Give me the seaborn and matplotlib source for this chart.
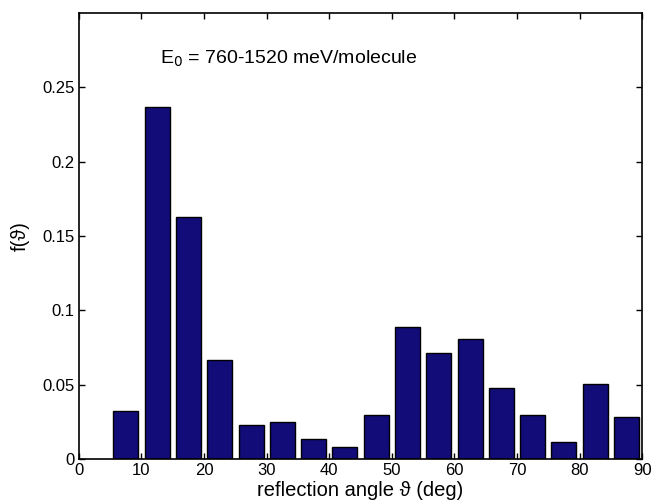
import numpy as np
import pandas as pd
import seaborn as sns
import matplotlib.pyplot as plt

# bin centres (deg) and fractions
angles = [7.5, 12.5, 17.5, 22.5, 27.5, 32.5, 37.5, 42.5, 47.5,
          52.5, 57.5, 62.5, 67.5, 72.5, 77.5, 82.5, 87.5]
fractions = [0.0323, 0.237, 0.163, 0.0665, 0.0228, 0.0247, 0.0135, 0.0083, 0.0297,
             0.0890, 0.0713, 0.0805, 0.0480, 0.0295, 0.0117, 0.0508, 0.0283]
x_ticks = [0, 10, 20, 30, 40, 50, 60, 70, 80, 90]
y_ticks = [0, 0.05, 0.1, 0.15, 0.2, 0.25]
y_tick_labels = ["0", "0.05", "0.1", "0.15", "0.2", "0.25"]

df = pd.DataFrame({"angle": angles, "f": fractions})

sns.set_style("ticks")
plt.rcParams['font.family'] = ['Liberation Sans', 'DejaVu Sans']
plt.rcParams['text.color'] = 'black'
plt.rcParams['axes.labelcolor'] = 'black'
plt.rcParams['xtick.color'] = 'black'
plt.rcParams['ytick.color'] = 'black'

fig = plt.figure(figsize=(6.52, 5.04), dpi=100)
ax = fig.add_axes([0.121, 0.089, 0.864, 0.885])

sns.barplot(data=df, x="angle", y="f", native_scale=True, width=0.8,
            color="#120c78", saturation=1, edgecolor="black", linewidth=1, ax=ax)

ax.set_xlim(0, 90)
ax.set_ylim(0, 0.3)
ax.set_xticks(x_ticks)
ax.set_xticklabels([str(t) for t in x_ticks])
ax.set_yticks(y_ticks)
ax.set_yticklabels(y_tick_labels)
ax.tick_params(direction="in", top=True, right=True, labelsize=12, length=4, width=1, pad=3)
for s in ax.spines.values():
    s.set_visible(True)
    s.set_linewidth(1.2)
    s.set_color("black")

ax.set_xlabel("reflection angle \u03d1 (deg)", fontsize=14.5, labelpad=2)
ax.set_ylabel("f(\u03d1)", fontsize=14.5, labelpad=9)
ax.text(13, 0.269, r"E$_0$ = 760-1520 meV/molecule", fontsize=14, va="center")

fig.savefig("out.png", dpi=100)
